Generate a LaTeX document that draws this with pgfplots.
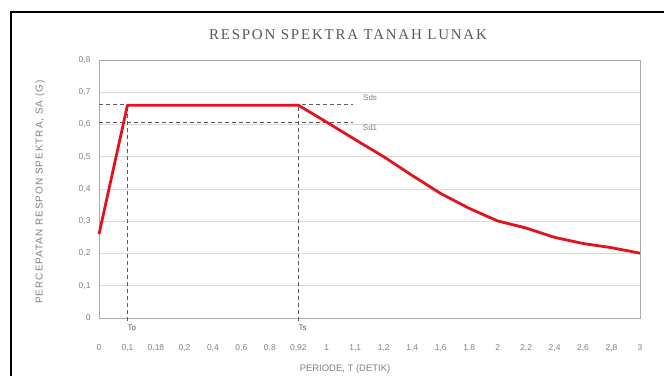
\documentclass[border=0pt]{standalone}
\usepackage{fontspec}
\setmainfont{Liberation Sans}
\newfontfamily\titlefont[LetterSpace=12]{Liberation Serif}
\newfontfamily\widesans[LetterSpace=10]{Liberation Sans}
\usepackage{pgfplots}
\pgfplotsset{compat=1.18}
\definecolor{sred}{RGB}{228,18,30}
\definecolor{tgray}{RGB}{89,89,89}
\definecolor{lgray}{RGB}{128,128,128}
\definecolor{gridc}{RGB}{217,217,217}
\definecolor{axg}{RGB}{170,170,170}
\definecolor{dashc}{RGB}{90,90,90}
\begin{document}
\begin{tikzpicture}
\useasboundingbox (0bp,0bp) rectangle (664bp,376bp);
\fill[white] (0bp,0bp) rectangle (664bp,376bp);
\begin{scope}
\clip (0bp,0bp) rectangle (664bp,376bp);
\draw[black, line width=1.4bp] (11bp,-10bp) -- (11bp,364bp) -- (680bp,364bp);
\end{scope}
\node[font=\titlefont\fontsize{15}{17}\selectfont, text=tgray] at (348bp,341bp) {RESPON SPEKTRA TANAH LUNAK};
\node[rotate=90, font=\widesans\fontsize{10}{12}\selectfont, text=lgray] at (40bp,184bp) {PERCEPATAN RESPON SPEKTRA, SA (G)};
\node[font=\fontsize{9.5}{11}\selectfont, text=lgray] at (345bp,7bp) {PERIODE, T (DETIK)};
\begin{axis}[
  at={(99bp,58bp)}, anchor=south west,
  scale only axis, width=541bp, height=258bp,
  xmin=0, xmax=19, ymin=0, ymax=0.8,
  axis line style={axg, line width=0.8bp},
  ytick={0,0.1,0.2,0.3,0.4,0.5,0.6,0.7,0.8},
  yticklabels={0,{0,1},{0,2},{0,3},{0,4},{0,5},{0,6},{0,7},{0,8}},
  xtick={0,1,2,3,4,5,6,7,8,9,10,11,12,13,14,15,16,17,18,19},
  xticklabels={0,{0,1},{0,18},{0,2},{0,4},{0,6},{0,8},{0,92},1,{1,1},{1,2},{1,4},{1,6},{1,8},2,{2,2},{2,4},{2,6},{2,8},3},
  major tick length=0pt,
  ymajorgrids, grid style={gridc, line width=0.6bp},
  tick label style={font=\fontsize{8.5}{10}\selectfont, text=lgray},
  xticklabel style={yshift=-23bp},
  yticklabel style={xshift=-5bp},
  clip=false,
]
\addplot[dashc, line width=0.8bp, dash pattern=on 4bp off 3bp] coordinates {(0,0.663) (8.92,0.663)};
\addplot[dashc, line width=0.8bp, dash pattern=on 4bp off 3bp] coordinates {(0,0.605) (8.92,0.605)};
\addplot[dashc, line width=0.8bp, dash pattern=on 4bp off 3bp] coordinates {(1,-0.01) (1,0.66)};
\addplot[dashc, line width=0.8bp, dash pattern=on 4bp off 3bp] coordinates {(7,-0.01) (7,0.66)};
\addplot[sred, line width=2.8bp, line join=round] coordinates {
(0,0.26) (1,0.66) (2,0.66) (3,0.66) (4,0.66) (5,0.66) (6,0.66) (7,0.66)
(8,0.607) (9,0.553) (10,0.5) (11,0.442) (12,0.386) (13,0.34) (14,0.301)
(15,0.279) (16,0.25) (17,0.231) (18,0.218) (19,0.201)};
\node[font=\fontsize{8}{9}\selectfont, text=lgray] at (axis cs:9.52,0.682) {Sds};
\node[font=\fontsize{8}{9}\selectfont, text=lgray] at (axis cs:9.52,0.59) {Sd1};
\node[font=\fontsize{8}{9}\selectfont, text=tgray] at (axis cs:1.15,-0.03) {To};
\node[font=\fontsize{8}{9}\selectfont, text=tgray] at (axis cs:7.15,-0.03) {Ts};
\end{axis}
\end{tikzpicture}
\end{document}
